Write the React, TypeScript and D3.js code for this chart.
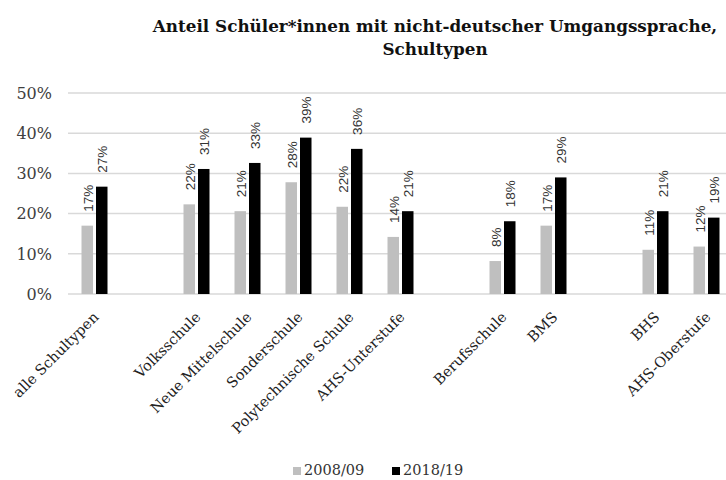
import React from "react";
import * as d3 from "d3";

const categories = [
  "alle Schultypen", "", "Volksschule", "Neue Mittelschule", "Sonderschule",
  "Polytechnische Schule", "AHS-Unterstufe", "", "Berufsschule", "BMS", "", "BHS", "AHS-Oberstufe",
];
const values2008: (number | null)[] = [17.0, null, 22.3, 20.6, 27.8, 21.7, 14.2, null, 8.2, 17.0, null, 11.0, 11.8];
const values2018: (number | null)[] = [26.7, null, 31.1, 32.6, 38.9, 36.1, 20.6, null, 18.1, 29.0, null, 20.6, 19.0];
const seriesNames = ["2008/09", "2018/19"];
const seriesColors = ["#bfbfbf", "#000000"];
const yTicks = [0, 10, 20, 30, 40, 50];
const titleLines = ["Anteil Schüler*innen mit nicht-deutscher Umgangssprache,", "Schultypen"];

const W = 726;
const H = 480;

export default function App() {
  const x = d3.scaleBand<number>().domain(categories.map((_, i) => i)).range([69, 732]).padding(0);
  const groupW = 26;
  const sub = d3.scaleBand<number>().domain([0, 1]).range([0, groupW]).paddingInner(0.207);
  const y = d3.scaleLinear().domain([0, 50]).range([294, 93]);
  const series = [values2008, values2018];
  const serif = "DejaVu Serif";
  const sans = "Liberation Sans";

  return (
    <svg width={W} height={H} style={{ position: "absolute", left: 0, top: 0, background: "#fff" }}>
      {titleLines.map((t, i) => (
        <text key={i} x={435} y={32 + i * 23} textAnchor="middle" fontFamily={serif} fontWeight="bold" fontSize={16.8} fill="#111">
          {t}
        </text>
      ))}
      {yTicks.map((t) => (
        <g key={t}>
          <line x1={68} x2={W} y1={y(t)} y2={y(t)} stroke="#d9d9d9" strokeWidth={1.5} />
          <text x={52} y={y(t)} dy="0.36em" textAnchor="end" fontFamily={serif} fontSize={16} fill="#404040">
            {t}%
          </text>
        </g>
      ))}
      {series.map((vals, s) =>
        vals.map((v, i) => {
          if (v == null) return null;
          const x0 = (x(i) as number) + (x.bandwidth() - groupW) / 2 + (sub(s) as number);
          const bw = sub.bandwidth();
          return (
            <g key={`${s}-${i}`}>
              <rect x={x0} y={y(v)} width={bw} height={y(0) - y(v)} fill={seriesColors[s]} />
              <text
                transform={`translate(${x0 + bw / 2 + 1},${y(v) - 14}) rotate(-90)`}
                dy="0.35em"
                textAnchor="start"
                fontFamily={sans}
                fontSize={13.5}
                fill="#333"
              >
                {Math.round(v)}%
              </text>
            </g>
          );
        })
      )}
      {categories.map((c, i) =>
        c ? (
          <text
            key={i}
            transform={`translate(${(x(i) as number) + x.bandwidth() / 2 + 5},${318}) rotate(-45)`}
            textAnchor="end"
            fontFamily={serif}
            fontSize={14.5}
            fill="#222"
          >
            {c}
          </text>
        ) : null
      )}
      {seriesNames.map((n, i) => {
        const lx = [293, 392][i];
        return (
          <g key={n}>
            <rect x={lx} y={467} width={8} height={8} fill={seriesColors[i]} />
            <text x={lx + 11} y={475} fontFamily={serif} fontSize={14.5} fill="#333">
              {n}
            </text>
          </g>
        );
      })}
    </svg>
  );
}
